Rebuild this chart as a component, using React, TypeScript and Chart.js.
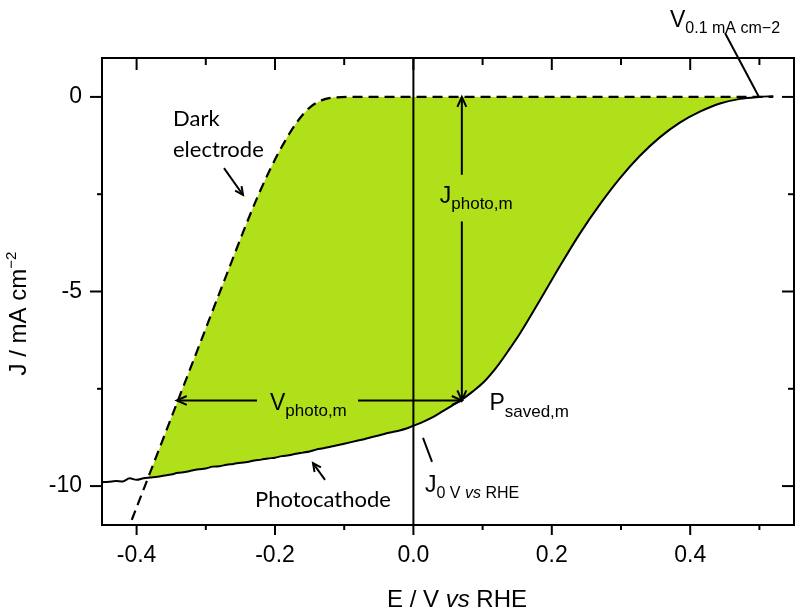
import React, { useEffect, useRef } from "react";
import { Chart, registerables } from "chart.js";

Chart.register(...registerables);

// ---- data (E / V vs RHE, J / mA cm-2) ----
const darkE = [-0.407, -0.38, -0.36, -0.337, -0.31, -0.284, -0.265, -0.246, -0.226, -0.207, -0.187, -0.168, -0.149, -0.13, -0.111, -0.092, -0.05, 0.0, 0.1, 0.2, 0.3, 0.4, 0.5, 0.52];
const darkJ = [-10.87, -9.63, -8.71, -7.65, -6.41, -5.21, -4.34, -3.47, -2.6, -1.86, -1.18, -0.64, -0.26, -0.07, -0.01, 0, 0, 0, 0, 0, 0, 0, 0, 0];

const photoE = [
  -0.45, -0.44, -0.43, -0.42, -0.41, -0.4, -0.39, -0.38, -0.37, -0.36,
  -0.35, -0.34, -0.33, -0.32, -0.31, -0.3, -0.29, -0.28, -0.27, -0.26,
  -0.25, -0.24, -0.23, -0.22, -0.21, -0.2, -0.19, -0.18, -0.17, -0.16,
  -0.15, -0.14, -0.13, -0.12, -0.11, -0.1, -0.09, -0.08, -0.07, -0.06,
  -0.05, -0.04, -0.03, -0.02, -0.01, 0.0, 0.014, 0.028, 0.042, 0.056,
  0.07, 0.085, 0.101, 0.12, 0.14, 0.154, 0.183, 0.212, 0.241, 0.27,
  0.298, 0.327, 0.356, 0.385, 0.414, 0.443, 0.472, 0.5, 0.52,
];
const photoJ = [
  -9.9, -9.89, -9.87, -9.88, -9.8, -9.84, -9.8, -9.78, -9.76, -9.73,
  -9.7, -9.66, -9.64, -9.6, -9.57, -9.55, -9.5, -9.49, -9.45, -9.43,
  -9.4, -9.38, -9.34, -9.32, -9.29, -9.27, -9.23, -9.21, -9.17, -9.14,
  -9.11, -9.06, -9.03, -8.99, -8.95, -8.91, -8.87, -8.83, -8.79, -8.74,
  -8.7, -8.65, -8.61, -8.57, -8.52, -8.45, -8.35, -8.23, -8.08, -7.93,
  -7.78, -7.58, -7.34, -6.95, -6.45, -6.08, -5.22, -4.34, -3.5, -2.75,
  -2.1, -1.52, -1.04, -0.66, -0.38, -0.17, -0.05, 0, 0.02,
];

const xTickValues = [-0.4, -0.3, -0.2, -0.1, 0, 0.1, 0.2, 0.3, 0.4, 0.5];
const xLabelValues = [-0.4, -0.2, 0, 0.2, 0.4];
const yTickValues = [-10, -7.5, -5, -2.5, 0];
const yLabelValues = [-10, -5, 0];

const X_MIN = -0.45;
const X_MAX = 0.55;
const Y_MIN = -11;
const Y_MAX = 1;

// ---- annotation anchors (data units) ----
const vPhotoArrow = { x1: -0.342, x2: 0.07, y: -7.8, gap1: -0.226, gap2: -0.08 };
const jPhotoArrow = { x: 0.07, y1: 0, y2: -7.8, gap1: -2.0, gap2: -3.2 };
const darkPointer = { x1: -0.2737, y1: -1.83, x2: -0.2462, y2: -2.52 };
const photoPointer = { x1: -0.1277, y1: -9.84, x2: -0.1451, y2: -9.41 };
const j0Pointer = { x1: 0.0139, y1: -8.76, x2: 0.0269, y2: -9.38 };
const v01Pointer = { x1: 0.4503, y1: 1.64, x2: 0.4994, y2: 0.0 };

const GREEN = "rgb(176,224,26)";
const ARIAL = '"Liberation Sans", Arial, sans-serif';
const CAL = 'Lato, "Open Sans", sans-serif';

type Part = [string, number, number, boolean?];

function near(list: number[], v: number) {
  return list.some((m) => Math.abs(m - v) < 1e-9);
}

function seg(ctx: CanvasRenderingContext2D, x1: number, y1: number, x2: number, y2: number) {
  ctx.beginPath();
  ctx.moveTo(x1, y1);
  ctx.lineTo(x2, y2);
  ctx.stroke();
}

function head(ctx: CanvasRenderingContext2D, fx: number, fy: number, tx: number, ty: number, len = 11, ang = 0.42) {
  const a = Math.atan2(ty - fy, tx - fx);
  ctx.beginPath();
  ctx.moveTo(tx - len * Math.cos(a - ang), ty - len * Math.sin(a - ang));
  ctx.lineTo(tx, ty);
  ctx.lineTo(tx - len * Math.cos(a + ang), ty - len * Math.sin(a + ang));
  ctx.stroke();
}

function rich(ctx: CanvasRenderingContext2D, x: number, y: number, parts: Part[], family: string, align: "left" | "center" = "left") {
  const fontOf = (p: Part) => `${p[3] ? "italic " : ""}${p[1]}px ${family}`;
  let total = 0;
  for (const p of parts) {
    ctx.font = fontOf(p);
    total += ctx.measureText(p[0]).width;
  }
  let cx = align === "center" ? x - total / 2 : x;
  ctx.textAlign = "left";
  ctx.textBaseline = "alphabetic";
  for (const p of parts) {
    ctx.font = fontOf(p);
    ctx.fillText(p[0], cx, y + p[2]);
    cx += ctx.measureText(p[0]).width;
  }
}

const decor = {
  id: "decor",
  afterDatasetsDraw(chart: any) {
    const { ctx, chartArea: a, scales } = chart;
    const sx = (v: number) => scales.x.getPixelForValue(v);
    const sy = (v: number) => scales.y.getPixelForValue(v);
    ctx.save();
    ctx.strokeStyle = "#000";
    ctx.fillStyle = "#000";
    ctx.lineWidth = 2;
    ctx.lineCap = "butt";

    // vertical line at 0 V
    seg(ctx, sx(0), a.top, sx(0), a.bottom);

    // frame
    ctx.strokeRect(a.left, a.top, a.right - a.left, a.bottom - a.top);

    // ticks
    for (const v of xTickValues) {
      const major = near(xLabelValues, v);
      const p = sx(v);
      seg(ctx, p, a.bottom, p, a.bottom + (major ? 10 : 5));
      seg(ctx, p, a.top, p, a.top + (major ? 12 : 7));
    }
    for (const v of yTickValues) {
      const major = near(yLabelValues, v);
      const p = sy(v);
      seg(ctx, a.left - (major ? 12 : 5), p, a.left, p);
      seg(ctx, a.right - (major ? 12 : 6), p, a.right, p);
    }

    // V photo arrow
    const vy = sy(vPhotoArrow.y);
    seg(ctx, sx(vPhotoArrow.x1), vy, sx(vPhotoArrow.gap1), vy);
    seg(ctx, sx(vPhotoArrow.gap2), vy, sx(vPhotoArrow.x2), vy);
    head(ctx, sx(vPhotoArrow.gap1), vy, sx(vPhotoArrow.x1), vy);
    head(ctx, sx(vPhotoArrow.gap2), vy, sx(vPhotoArrow.x2), vy);

    // J photo arrow
    const jx = sx(jPhotoArrow.x);
    seg(ctx, jx, sy(jPhotoArrow.y1), jx, sy(jPhotoArrow.gap1));
    seg(ctx, jx, sy(jPhotoArrow.gap2), jx, sy(jPhotoArrow.y2));
    head(ctx, jx, sy(jPhotoArrow.gap1), jx, sy(jPhotoArrow.y1));
    head(ctx, jx, sy(jPhotoArrow.gap2), jx, sy(jPhotoArrow.y2));

    // pointers
    for (const p of [darkPointer, photoPointer]) {
      seg(ctx, sx(p.x1), sy(p.y1), sx(p.x2), sy(p.y2));
      head(ctx, sx(p.x1), sy(p.y1), sx(p.x2), sy(p.y2), 9, 0.45);
    }
    for (const p of [j0Pointer, v01Pointer]) {
      seg(ctx, sx(p.x1), sy(p.y1), sx(p.x2), sy(p.y2));
    }

    // annotation texts
    ctx.font = `22px ${CAL}`;
    ctx.textAlign = "left";
    ctx.textBaseline = "alphabetic";
    ctx.fillText("Dark", sx(-0.3474), sy(-0.747));
    ctx.fillText("electrode", sx(-0.3474), sy(-1.544));
    ctx.fillText("Photocathode", sx(-0.2289), sy(-10.537));

    rich(ctx, sx(0.0381), sy(-2.726), [["J", 23, 0], ["photo,m", 17, 6]], ARIAL);
    rich(ctx, sx(-0.2072), sy(-8.045), [["V", 23, 0], ["photo,m", 17, 6]], ARIAL);
    rich(ctx, sx(0.1098), sy(-8.045), [["P", 23, 0], ["saved,m", 17, 7]], ARIAL);
    rich(ctx, sx(0.0168), sy(-10.152), [["J", 23, 0], ["0 V ", 16, 6], ["vs", 16, 6, true], [" RHE", 16, 6]], ARIAL);
    rich(ctx, sx(0.3708), sy(1.797), [["V", 23, 0], ["0.1 mA cm\u22122", 16, 6]], ARIAL);

    // axis titles
    rich(ctx, (a.left + a.right) / 2 + 9, a.bottom + 82, [["E / V ", 24, 0], ["vs", 24, 0, true], [" RHE", 24, 0]], ARIAL, "center");
    ctx.save();
    ctx.translate(a.left - 76, (a.top + a.bottom) / 2 + 22);
    ctx.rotate(-Math.PI / 2);
    rich(ctx, 0, 0, [["J / mA cm", 24, 0], ["\u22122", 15, -10]], ARIAL, "center");
    ctx.restore();

    ctx.restore();
  },
};

export default function App() {
  const ref = useRef<HTMLCanvasElement | null>(null);
  useEffect(() => {
    document.body.style.margin = "0";
    if (!ref.current) return;
    Chart.defaults.color = "#000";
    const chart = new Chart(ref.current, {
      type: "line",
      data: {
        datasets: [
          {
            label: "Dark electrode",
            data: darkE.map((x, i) => ({ x, y: darkJ[i] })),
            borderColor: "#000",
            borderWidth: 2.2,
            borderDash: [10, 6],
            pointRadius: 0,
            cubicInterpolationMode: "monotone",
            fill: { target: 1, above: GREEN, below: "rgba(0,0,0,0)" },
          },
          {
            label: "Photocathode",
            data: photoE.map((x, i) => ({ x, y: photoJ[i] })),
            borderColor: "#000",
            borderWidth: 2,
            pointRadius: 0,
            cubicInterpolationMode: "monotone",
            fill: false,
          },
        ],
      },
      options: {
        animation: false,
        responsive: true,
        maintainAspectRatio: false,
        layout: { padding: { top: 58, right: 6, left: 0, bottom: 0 } },
        plugins: {
          legend: { display: false },
          tooltip: { enabled: false },
          filler: { drawTime: "beforeDatasetsDraw" },
        } as any,
        scales: {
          x: {
            type: "linear",
            min: X_MIN,
            max: X_MAX,
            position: "bottom",
            grid: { display: false, drawTicks: false },
            border: { display: false },
            afterBuildTicks: (s: any) => {
              s.ticks = xTickValues.map((v) => ({ value: v }));
            },
            afterFit: (s: any) => {
              s.height = 90;
            },
            ticks: {
              autoSkip: false,
              maxRotation: 0,
              minRotation: 0,
              padding: 17,
              color: "#000",
              font: { family: ARIAL, size: 23 },
              callback: (v: any) => (near(xLabelValues, Number(v)) ? Number(v).toFixed(1) : ""),
            },
          },
          y: {
            type: "linear",
            min: Y_MIN,
            max: Y_MAX,
            grid: { display: false, drawTicks: false },
            border: { display: false },
            afterBuildTicks: (s: any) => {
              s.ticks = yTickValues.map((v) => ({ value: v }));
            },
            afterFit: (s: any) => {
              s.width = 102;
            },
            ticks: {
              autoSkip: false,
              padding: 20,
              color: "#000",
              font: { family: ARIAL, size: 23 },
              callback: (v: any) => (near(yLabelValues, Number(v)) ? String(v) : ""),
            },
          },
        },
      } as any,
      plugins: [decor],
    });
    return () => chart.destroy();
  }, []);
  return (
    <div style={{ position: "absolute", left: 0, top: 0, width: 800, height: 615, background: "#fff" }}>
      <canvas ref={ref} />
    </div>
  );
}
